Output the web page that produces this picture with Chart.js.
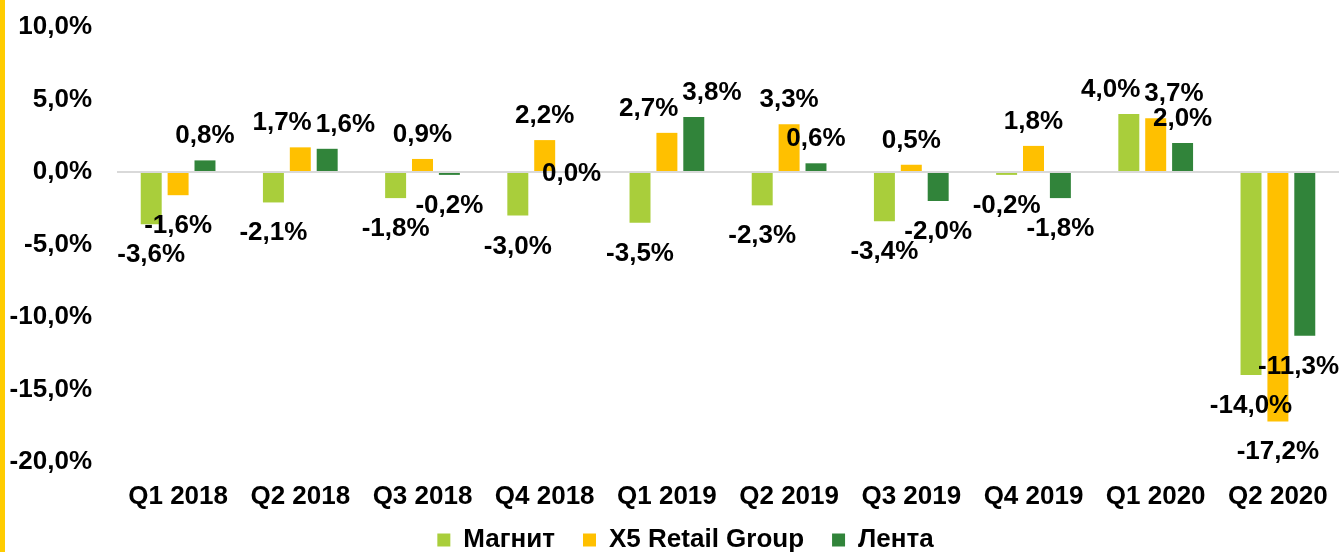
<!DOCTYPE html>
<html>
<head>
<meta charset="utf-8">
<script src="https://cdn.jsdelivr.net/npm/chart.js@4"></script>
<style>
  html, body { margin: 0; padding: 0; background: #fff; }
  #wrap { width: 1340px; height: 552px; position: relative; }
</style>
</head>
<body>
<div id="wrap"><canvas id="chart" width="1340" height="552"></canvas></div>
<script>
// Quarters
var quarters = ['Q1 2018', 'Q2 2018', 'Q3 2018', 'Q4 2018', 'Q1 2019', 'Q2 2019', 'Q3 2019', 'Q4 2019', 'Q1 2020', 'Q2 2020'];

// LFL change, %
var magnit = [-3.6, -2.1, -1.8, -3.0, -3.5, -2.3, -3.4, -0.2, 4.0, -14.0];
var x5 = [-1.6, 1.7, 0.9, 2.2, 2.7, 3.3, 0.5, 1.8, 3.7, -17.2];
var lenta = [0.8, 1.6, -0.2, 0.0, 3.8, 0.6, -2.0, -1.8, 2.0, -11.3];

var seriesNames = ['Магнит', 'X5 Retail Group', 'Лента'];
var seriesColors = ['#A9CE3B', '#FFC000', '#31843A'];

var FONT = 'Arial, "Liberation Sans", sans-serif';
var FSIZE = 26;

function fmt( v ) {
	return v.toFixed(1).replace('.', ',') + '%';
}

// value labels above / below the bars, pushed apart when they collide
var barLabels = {
	id: 'barLabels',
	afterDatasetsDraw: function( chart ) {
		var ctx = chart.ctx;
		ctx.save();
		ctx.font = 'bold ' + FSIZE + 'px ' + FONT;
		ctx.fillStyle = '#000';
		ctx.textAlign = 'center';
		ctx.textBaseline = 'alphabetic';

		var n = chart.data.labels.length;
		for( var j = 0; j < n; j++ ) {
			var items = [];
			chart.data.datasets.forEach( function( ds, i ) {
				var bar = chart.getDatasetMeta(i).data[j];
				var v = ds.data[j];
				var y;
				if( v > 0 ) {
					y = bar.y - 17;
				} else if( v < 0 ) {
					y = bar.y + 38;
				} else {
					y = bar.y + 9;
				}
				var t = fmt(v);
				items.push({ text: t, x: bar.x, y: y, w: ctx.measureText(t).width });
			});

			// simple de-overlap of neighbours
			for( var pass = 0; pass < 6; pass++ ) {
				for( var k = 0; k < items.length - 1; k++ ) {
					var a = items[k], b = items[k + 1];
					if( Math.abs(a.y - b.y) >= 19 ) continue;
					var need = (a.w + b.w) / 2 + 4;
					var d = b.x - a.x;
					if( d < need ) {
						var s = (need - d) / 2;
						a.x -= s;
						b.x += s;
					}
				}
			}

			items.forEach( function( it ) {
				var x = Math.min( it.x, chart.width - it.w / 2 - 1 );
				ctx.fillText( it.text, x, it.y );
			});
		}
		ctx.restore();
	}
};

// yellow stripe on the left edge
var leftStripe = {
	id: 'leftStripe',
	beforeDraw: function( chart ) {
		var ctx = chart.ctx;
		ctx.save();
		ctx.fillStyle = '#FFCC00';
		ctx.fillRect( 0, 0, 5, chart.height );
		ctx.restore();
	}
};

// compact legend at the very bottom
var legendPlace = {
	id: 'legendPlace',
	beforeLayout: function( chart ) {
		var lg = chart.legend;
		if( lg && !lg._fitPatched ) {
			var fit = lg.fit;
			lg.fit = function() {
				fit.call(this);
				this.height = 43;
			};
			lg._fitPatched = true;
		}
	},
	afterLayout: function( chart ) {
		var lg = chart.legend;
		if( lg ) {
			lg.top = lg.bottom - 53;
			lg.left += 16;
			lg.right += 16;
		}
	}
};

var ctx = document.getElementById('chart').getContext('2d');
var chart = new Chart(ctx, {
	type: 'bar',
	data: {
		labels: quarters,
		datasets: [
			{ label: seriesNames[0], data: magnit, backgroundColor: seriesColors[0] },
			{ label: seriesNames[1], data: x5, backgroundColor: seriesColors[1] },
			{ label: seriesNames[2], data: lenta, backgroundColor: seriesColors[2] }
		]
	},
	options: {
		responsive: false,
		animation: false,
		devicePixelRatio: 1,
		categoryPercentage: 0.66,
		barPercentage: 0.78,
		layout: {
			padding: { top: 27, right: 1, left: 0, bottom: 0 }
		},
		scales: {
			x: {
				afterFit: function( scale ) {
					scale.height = 47;
				},
				grid: { display: false },
				border: { display: false },
				ticks: {
					color: '#000',
					padding: 11,
					maxRotation: 0,
					font: { family: FONT, size: FSIZE, weight: 'bold' }
				}
			},
			y: {
				min: -20,
				max: 10,
				afterFit: function( scale ) {
					scale.width = 117;
					scale.paddingTop = 0;
					scale.paddingBottom = 0;
				},
				border: { display: false },
				grid: {
					drawTicks: false,
					lineWidth: 2,
					color: function( c ) {
						return c.tick && c.tick.value === 0 ? '#D9D9D9' : 'rgba(0,0,0,0)';
					}
				},
				ticks: {
					stepSize: 5,
					color: '#000',
					padding: 25,
					font: { family: FONT, size: FSIZE, weight: 'bold' },
					callback: function( v ) { return fmt(v); }
				}
			}
		},
		plugins: {
			tooltip: { enabled: false },
			legend: {
				position: 'bottom',
				labels: {
					color: '#000',
					boxWidth: 13,
					boxHeight: 13,
					padding: 28,
					font: { family: FONT, size: FSIZE, weight: 'bold' }
				}
			}
		}
	},
	plugins: [leftStripe, legendPlace, barLabels]
});
</script>
</body>
</html>
